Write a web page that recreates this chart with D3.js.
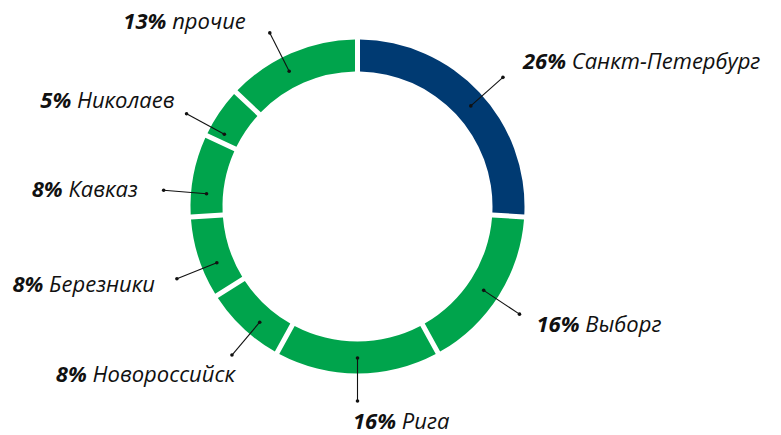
<!DOCTYPE html>
<html>
<head>
<meta charset="utf-8">
<script src="https://cdn.jsdelivr.net/npm/d3@7"></script>
<style>
  html, body { margin: 0; padding: 0; background: #fff; }
  svg { display: block; }
  text { font-family: "Open Sans", "Noto Sans", sans-serif; font-style: italic; fill: #111; }
  .pct { font-weight: 700; }
</style>
</head>
<body>
<svg id="chart" width="781" height="435"></svg>
<script>
// Shares by port / region, clockwise from 12 o'clock
const categories = ["Санкт-Петербург", "Выборг", "Рига", "Новороссийск", "Березники", "Кавказ", "Николаев", "прочие"];
const shares = [26, 16, 16, 8, 8, 8, 5, 13];
const highlight = ["Санкт-Петербург"];

// Callout placement: leader angle (deg from top), label offset from leader end, anchor
const calloutAngle = [48.4, 123.6, 180, 220.2, 248.2, 274.8, 298.5, 333.2];
const calloutDx = [20, 17, -4.5, 3, -22, -26, -12, -24];
const calloutDy = [-8, 18, 28, 27, 13, 7, -6, -4];
const calloutAnchor = ["start", "start", "start", "end", "end", "end", "end", "end"];

const W = 781, H = 435;
const cx = 357.5, cy = 206.5;
const rOuter = 167, rInner = 135;
const rDotIn = 151.5, rDotOut = 194.5;

const BLUE = "#003a72", GREEN = "#00a44c";

const svg = d3.select("#chart");
const g = svg.append("g").attr("transform", `translate(${cx},${cy})`);

const data = categories.map((c, i) => ({ name: c, value: shares[i], idx: i }));

const pie = d3.pie().value(d => d.value).sort(null).startAngle(0).endAngle(2 * Math.PI);
const arc = d3.arc().innerRadius(rInner).outerRadius(rOuter)
  .padAngle(5 / rOuter).padRadius(rOuter);

g.selectAll("path.slice")
  .data(pie(data))
  .join("path")
  .attr("class", "slice")
  .attr("d", arc)
  .attr("fill", d => highlight.includes(d.data.name) ? BLUE : GREEN);

// Leader lines with dot ends
const polar = (deg, r) => {
  const a = deg * Math.PI / 180;
  return [r * Math.sin(a), -r * Math.cos(a)];
};

const callouts = g.selectAll("g.callout")
  .data(data)
  .join("g")
  .attr("class", "callout");

callouts.append("line")
  .attr("x1", d => polar(calloutAngle[d.idx], rDotIn)[0])
  .attr("y1", d => polar(calloutAngle[d.idx], rDotIn)[1])
  .attr("x2", d => polar(calloutAngle[d.idx], rDotOut)[0])
  .attr("y2", d => polar(calloutAngle[d.idx], rDotOut)[1])
  .attr("stroke", "#111")
  .attr("stroke-width", 1.1);

[rDotIn, rDotOut].forEach(r => {
  callouts.append("circle")
    .attr("cx", d => polar(calloutAngle[d.idx], r)[0])
    .attr("cy", d => polar(calloutAngle[d.idx], r)[1])
    .attr("r", 1.8)
    .attr("fill", "#111");
});

const label = callouts.append("text")
  .attr("x", d => polar(calloutAngle[d.idx], rDotOut)[0] + calloutDx[d.idx])
  .attr("y", d => polar(calloutAngle[d.idx], rDotOut)[1] + calloutDy[d.idx])
  .attr("text-anchor", d => calloutAnchor[d.idx])
  .attr("font-size", 22);

label.append("tspan").attr("class", "pct").text(d => d.value + "%");
label.append("tspan").text(d => "\u00a0" + d.name);
</script>
</body>
</html>
